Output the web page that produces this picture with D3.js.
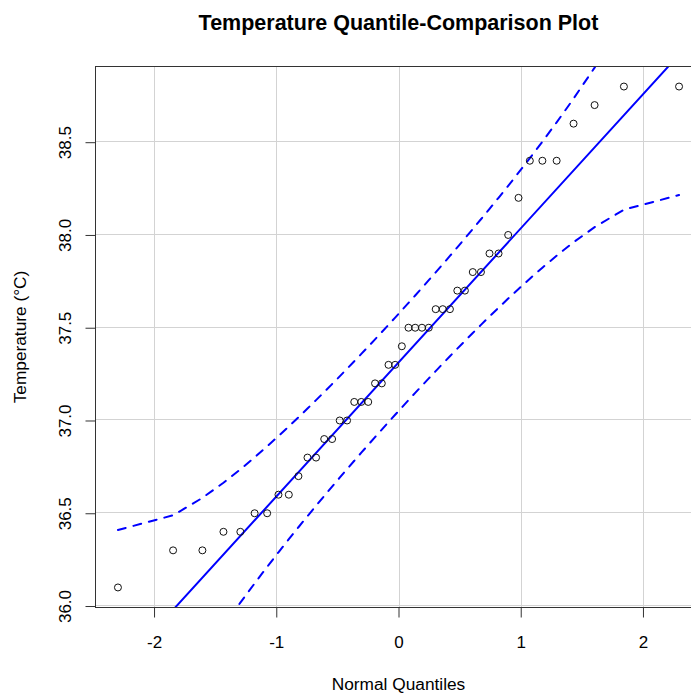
<!DOCTYPE html>
<html>
<head>
<meta charset="utf-8">
<script src="https://cdn.jsdelivr.net/npm/d3@7"></script>
<style>
  html, body { margin: 0; padding: 0; background: #fff; }
  svg { display: block; font-family: "Liberation Sans", Arial, sans-serif; }
</style>
</head>
<body>
<svg id="chart" width="691" height="693"></svg>
<script>
const temperatures = [
  36.1,
  36.3, 36.3,
  36.4, 36.4,
  36.5, 36.5,
  36.6, 36.6,
  36.7,
  36.8, 36.8,
  36.9, 36.9,
  37.0, 37.0,
  37.1, 37.1, 37.1,
  37.2, 37.2,
  37.3, 37.3,
  37.4,
  37.5, 37.5, 37.5, 37.5,
  37.6, 37.6, 37.6,
  37.7, 37.7,
  37.8, 37.8,
  37.9, 37.9,
  38.0,
  38.2,
  38.4, 38.4, 38.4,
  38.6,
  38.7,
  38.8, 38.8
];

// Theoretical normal quantiles for n = 46 (qnorm of ppoints), lower half; upper half mirrors it
const normalQuantilesLower = [
  -2.2953, -1.8442, -1.6044, -1.4322, -1.2939, -1.1772, -1.0745, -0.9820,
  -0.8973, -0.8186, -0.7446, -0.6745, -0.6076, -0.5432, -0.4811, -0.4208,
  -0.3619, -0.3043, -0.2477, -0.1919, -0.1366, -0.0818, -0.0273
];
const normalQuantiles = normalQuantilesLower.concat(normalQuantilesLower.slice().reverse().map(v => -v));

const xTicks = [-2, -1, 0, 1, 2];
const yTicks = [36.0, 36.5, 37.0, 37.5, 38.0, 38.5];

const titleText = "Temperature Quantile-Comparison Plot";
const xLabel = "Normal Quantiles";
const yLabel = "Temperature (\u00B0C)";

(function () {
// ---- derived statistics (car::qqPlot, line = "quartiles", envelope = 0.95) ----
const n = temperatures.length;
const q1 = d3.quantile(temperatures, 0.25);
const q3 = d3.quantile(temperatures, 0.75);
const zq = 0.6744898;
const slope = (q3 - q1) / (2 * zq);
const intercept = q1 + slope * zq;
const zz = 1.959964;
const dnorm = z => Math.exp(-z * z / 2) / Math.sqrt(2 * Math.PI);
const env = normalQuantiles.map((z, i) => {
  const P = (i + 0.5) / n;
  const se = (slope / dnorm(z)) * Math.sqrt(P * (1 - P) / n);
  const fit = intercept + slope * z;
  return { z, upper: fit + zz * se, lower: fit - zz * se };
});

// ---- layout ----
const svg = d3.select("#chart");
const pL = 95.5, pR = 701.5, pT = 66.5, pB = 607.5;

const xr = d3.extent(normalQuantiles);
const xpad = (xr[1] - xr[0]) * 0.04;
const yr = d3.extent(temperatures);
const ypad = (yr[1] - yr[0]) * 0.04;

const x = d3.scaleLinear().domain([xr[0] - xpad, xr[1] + xpad]).range([pL, pR]);
const y = d3.scaleLinear().domain([yr[0] - ypad, yr[1] + ypad]).range([pB, pT]);

svg.append("defs").append("clipPath").attr("id", "plotclip")
  .append("rect").attr("x", pL).attr("y", pT)
  .attr("width", pR - pL).attr("height", pB - pT);

// grid
const grid = svg.append("g");
grid.selectAll("line.gx").data(xTicks).join("line").attr("class", "gx")
  .attr("x1", d => Math.round(x(d)) + 0.5).attr("x2", d => Math.round(x(d)) + 0.5)
  .attr("y1", pT).attr("y2", pB)
  .attr("stroke", "#d3d3d3").attr("stroke-width", 1);
grid.selectAll("line.gy").data(yTicks).join("line").attr("class", "gy")
  .attr("y1", d => Math.round(y(d)) - 0.5).attr("y2", d => Math.round(y(d)) - 0.5)
  .attr("x1", pL).attr("x2", pR)
  .attr("stroke", "#d3d3d3").attr("stroke-width", 1);

// plot content
const plot = svg.append("g").attr("clip-path", "url(#plotclip)");

const x0 = x.domain()[0], x1 = x.domain()[1];
plot.append("line")
  .attr("x1", x(x0)).attr("y1", y(intercept + slope * x0))
  .attr("x2", x(x1)).attr("y2", y(intercept + slope * x1))
  .attr("stroke", "#0000ff").attr("stroke-width", 2).attr("stroke-linecap", "round");

const upperLine = d3.line().x(d => x(d.z)).y(d => y(d.upper));
const lowerLine = d3.line().x(d => x(d.z)).y(d => y(d.lower));
[upperLine, lowerLine].forEach(gen => {
  plot.append("path").attr("d", gen(env))
    .attr("fill", "none").attr("stroke", "#0000ff").attr("stroke-width", 2)
    .attr("stroke-dasharray", "8,8").attr("stroke-linecap", "round");
});

plot.selectAll("circle").data(temperatures).join("circle")
  .attr("cx", (d, i) => x(normalQuantiles[i]))
  .attr("cy", d => y(d))
  .attr("r", 3.5)
  .attr("fill", "none").attr("stroke", "#111").attr("stroke-width", 1);

// box
svg.append("rect").attr("x", pL).attr("y", pT)
  .attr("width", pR - pL).attr("height", pB - pT)
  .attr("fill", "none").attr("stroke", "#333").attr("stroke-width", 1);

// axes
const xAxis = d3.axisBottom(x).tickValues(xTicks).tickSize(10).tickPadding(18)
  .tickFormat(d => d < 0 ? "-" + Math.abs(d) : String(d));
const gx = svg.append("g").attr("transform", `translate(0,${pB})`).call(xAxis);
gx.select(".domain").remove();
gx.selectAll(".tick line").attr("stroke", "#333");
gx.selectAll(".tick text").attr("font-size", 17).attr("fill", "#000")
  .attr("font-family", "Liberation Sans, Arial, sans-serif");

const yAxis = d3.axisLeft(y).tickValues(yTicks).tickSize(10).tickFormat(d3.format(".1f"));
const gy = svg.append("g").attr("transform", `translate(${pL},0)`).call(yAxis);
gy.select(".domain").remove();
gy.selectAll(".tick line").attr("stroke", "#333");
gy.selectAll(".tick text")
  .attr("font-size", 17).attr("fill", "#000")
  .attr("font-family", "Liberation Sans, Arial, sans-serif")
  .attr("x", null).attr("dy", null)
  .attr("text-anchor", "middle")
  .attr("transform", "translate(-25,0) rotate(-90)");

// title & labels
svg.append("text").attr("x", (pL + pR) / 2).attr("y", 30)
  .attr("text-anchor", "middle").attr("font-size", 21.5).attr("font-weight", "bold")
  .text(titleText);

svg.append("text").attr("x", (pL + pR) / 2).attr("y", 690)
  .attr("text-anchor", "middle").attr("font-size", 17.3)
  .text(xLabel);

svg.append("text")
  .attr("transform", `translate(26,${(pT + pB) / 2}) rotate(-90)`)
  .attr("text-anchor", "middle").attr("font-size", 17.3)
  .text(yLabel);
})();
</script>
</body>
</html>
